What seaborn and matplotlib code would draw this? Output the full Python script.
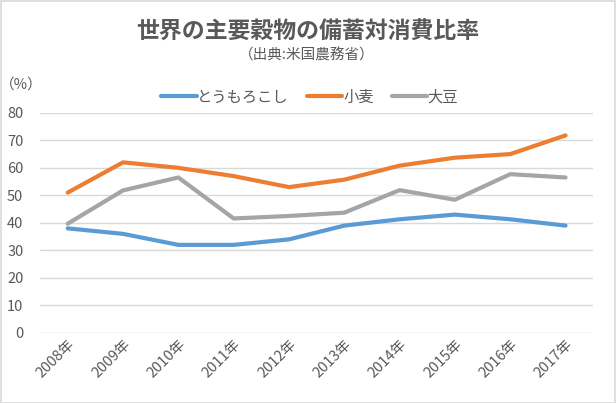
import matplotlib
matplotlib.use("Agg")
import matplotlib.pyplot as plt
import pandas as pd
import seaborn as sns
from matplotlib.patches import Rectangle

years = ["2008年", "2009年", "2010年", "2011年", "2012年",
         "2013年", "2014年", "2015年", "2016年", "2017年"]
corn = [38, 36, 32, 32, 34, 39, 41.3, 43, 41.3, 39]
wheat = [51, 62, 60, 57, 53, 55.7, 60.8, 63.7, 65, 71.8]
soy = [39.7, 51.8, 56.5, 41.6, 42.5, 43.7, 51.9, 48.4, 57.7, 56.5]
series = ["とうもろこし", "小麦", "大豆"]
colors = ["#5B9BD5", "#ED7D31", "#A5A5A5"]

sns.set_theme(style="white")
plt.rcParams["font.family"] = ["Noto Sans CJK JP", "DejaVu Sans"]
txt = "#595959"

df = pd.DataFrame({
    "year": years * 3,
    "value": corn + wheat + soy,
    "crop": [series[0]] * 10 + [series[1]] * 10 + [series[2]] * 10,
})

fig = plt.figure(figsize=(6.16, 4.03), dpi=100)
ax = fig.add_axes([0.065, 0.174, 0.898, 0.546])

sns.lineplot(data=df, x="year", y="value", hue="crop", palette=colors,
             linewidth=3, ax=ax, legend=False)

ax.set_xlim(-0.5, 9.5)
ax.set_ylim(0, 80)
ax.set_yticks(range(0, 81, 10))
ax.yaxis.grid(True, color="#D9D9D9", linewidth=1)
ax.xaxis.grid(False)
for s in ax.spines.values():
    s.set_visible(False)
ax.set_xlabel("")
ax.set_ylabel("")
ax.tick_params(axis="y", labelsize=10.5, labelcolor=txt, length=0, pad=12)
ax.tick_params(axis="x", labelsize=10.5, labelcolor=txt, length=0, pad=3)
for lab in ax.get_xticklabels():
    lab.set_rotation(45)
    lab.set_ha("right")
    lab.set_rotation_mode("anchor")

fig.text(0.5, 0.92, "世界の主要穀物の備蓄対消費比率", ha="center", va="center",
         fontsize=16.5, fontweight="bold", color=txt)
fig.text(0.498, 0.863, "（出典:米国農務省）", ha="center", va="center",
         fontsize=10.5, color=txt)
fig.text(0.0, 0.79, "（%）", ha="left", va="center", fontsize=10.5, color=txt)

handles = [plt.Line2D([], [], color=c, linewidth=3) for c in colors]
fig.legend(handles, series, loc="center", bbox_to_anchor=(0.503, 0.759),
           ncol=3, frameon=False, fontsize=11, handlelength=2.3,
           handletextpad=0.05, columnspacing=1.2, labelcolor=txt)

fig.patches.append(Rectangle((0.001, 0.001), 0.997, 0.997, transform=fig.transFigure,
                             fill=False, edgecolor="#D9D9D9", linewidth=1.2))

fig.savefig("out.png", dpi=100, facecolor="white")
